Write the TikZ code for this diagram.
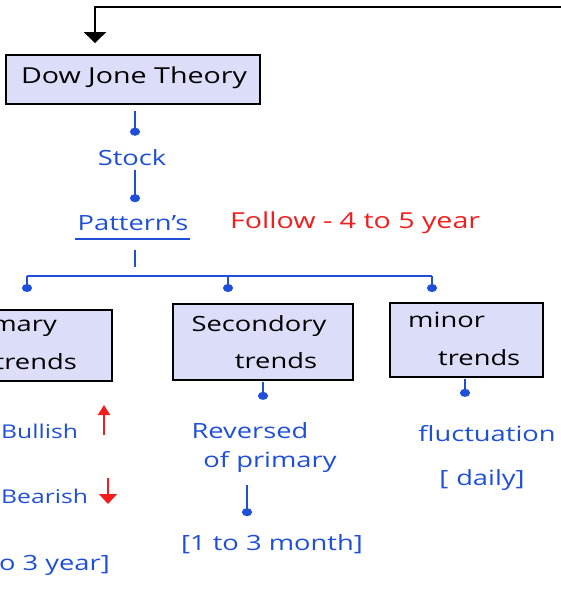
\documentclass[tikz,border=0pt]{standalone}
\usepackage{fontspec}
\setmainfont{Open Sans}[FakeStretch=1.3]
\usetikzlibrary{arrows.meta}
\definecolor{inkblue}{HTML}{1F4FD8}
\definecolor{inkred}{HTML}{F21D1D}
\definecolor{boxfill}{HTML}{DCDDF8}
\tikzset{
  topicbox/.style={draw=black, line width=1.7pt, fill=boxfill, inner sep=0pt},
  note/.style={text=inkblue, font=\fontsize{21}{30}\selectfont, inner sep=0pt, align=center},
  smallnote/.style={note, font=\fontsize{19}{24}\selectfont},
  rednote/.style={text=inkred, font=\fontsize{22}{26}\selectfont, inner sep=0pt},
  handtext/.style={text=black, font=\fontsize{21}{34}\selectfont, inner sep=0pt},
  flow/.style={draw=inkblue, line width=1.7pt, -{Circle[length=8pt,width=10pt]}},
  tick/.style={draw=inkblue, line width=1.7pt},
  updown/.style={draw=inkred, line width=1.7pt, -{Triangle[length=10pt,width=#1]}},
  updown/.default=12pt
}
\begin{document}
\begin{tikzpicture}[x=1pt,y=-1pt]
\useasboundingbox (0,0) rectangle (561,589);
\clip (0,0) rectangle (561,589);

% incoming connector from the top
\coordinate (inA) at (575,7);
\coordinate (inB) at (95,7);

% main topic
\node[topicbox, minimum width=254pt, minimum height=49pt] (dow) at (133,79.5) {};
\node[handtext, font=\fontsize{22}{34}\selectfont] at (134,78) {Dow Jone Theory};
\draw[line width=1.5pt, -{Triangle[length=11pt,width=22pt]}] (inA) -- (inB) -- ([yshift=11pt]dow.north -| inB);

% chain: stock -> patterns
\node[note] (stock) at (132,158) {Stock};
\node[note] (pat) at (133,223) {Pattern's};
\node[rednote, anchor=west] (follow) at (230,223) {Follow - 4 to 5 year};
\draw[tick] (75,239) -- (190,239);
\draw[flow] ([yshift=-6pt]dow.south -| 135,0) -- ([yshift=14pt]stock.north -| 135,0);
\draw[flow] ([yshift=-4pt]stock.south -| 135,0) -- ([yshift=13pt]pat.north -| 135,0);

% branching bar
\coordinate (stem) at (135,250);
\coordinate (bar) at (135,276);
\draw[tick] (stem) -- (135,267);
\draw[tick] (27,276) -- (432,276);
\draw[flow] (27,276) -- (27,292);
\draw[flow] (228,276) -- (228,292);
\draw[flow] (432,276) -- (432,292);

% trend boxes
\node[topicbox, minimum width=180pt, minimum height=71pt] (prim) at (22,345.5) {};
\node[handtext, anchor=east] at (57,326) {Primary};
\node[handtext, anchor=east] at (77,362) {trends};
\node[topicbox, minimum width=180pt, minimum height=76pt] (sec) at (263,342) {};
\node[handtext] at (259,326) {Secondory};
\node[handtext] at (276,361) {trends};
\node[topicbox, minimum width=153pt, minimum height=74pt] (minr) at (466.5,340) {};
\node[handtext, anchor=west] at (408,320) {minor};
\node[handtext, anchor=west] at (438,358) {trends};

% primary details
\node[smallnote, anchor=west] (bull) at (1,431) {Bullish};
\draw[updown] (104,435) -- (104,405);
\node[smallnote, anchor=west] (bear) at (1,496) {Bearish};
\draw[updown=18pt] (108,478) -- (108,504);
\node[note, anchor=east] (pdur) at (110,565) {[1 to 3 year]};

% secondary details
\draw[flow] ([yshift=-1pt]sec.south) -- ([yshift=-19pt]sec.south);
\node[note] (rev) at (250,431) {Reversed};
\node[note] (ofp) at (270,462) {of primary};
\node[note] (sdur) at (272,544) {[1 to 3 month]};
\draw[flow] ([yshift=-12pt]ofp.south -| 247,0) -- ([yshift=18pt]sdur.north -| 247,0);

% minor details
\draw[flow] ([yshift=-1pt]minr.south -| 465,0) -- ([yshift=-19pt]minr.south -| 465,0);
\node[note] (fluc) at (487,434) {fluctuation};
\node[note] (daily) at (482,480) {[\hspace{8pt}daily]};
\end{tikzpicture}
\end{document}
